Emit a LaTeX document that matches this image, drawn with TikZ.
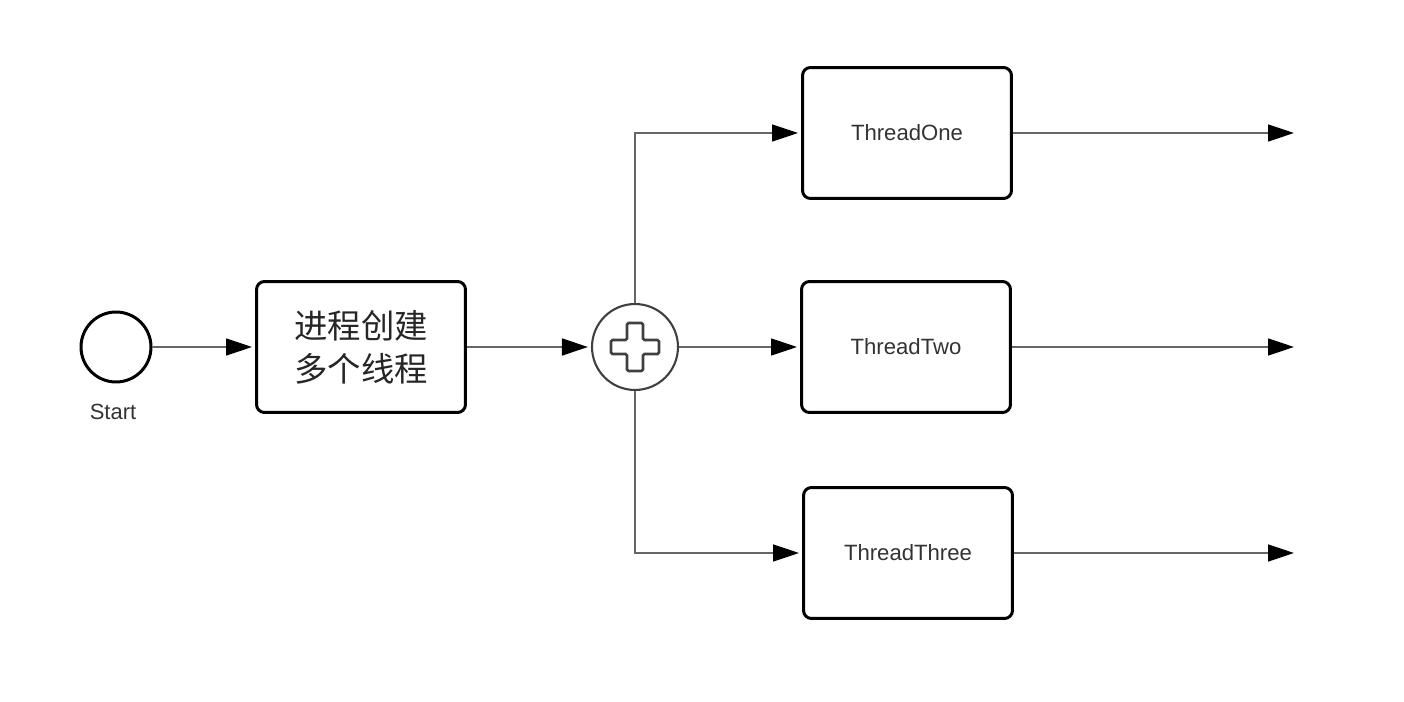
\documentclass[tikz,border=0pt]{standalone}
\usepackage{fontspec}
\setmainfont{Liberation Sans}
\newfontfamily\cjk{Noto Sans CJK SC}
\usetikzlibrary{arrows.meta}

\begin{document}
\begin{tikzpicture}[x=0.02cm, y=-0.02cm,
	task/.style={draw=black, line width=1.7pt, rounded corners=0.16cm, minimum width=4.18cm, minimum height=2.62cm, inner sep=0pt, text=black!80, font=\fontsize{12.6}{15}\selectfont},
	flow/.style={draw=black!60, line width=0.85pt, -{Triangle[length=0.52cm, width=0.34cm, black]}, shorten >=0.06cm}]
	\useasboundingbox (0,0) rectangle (1404,702);
	% Start Event %
	\node (start) [circle, draw=black, line width=1.7pt, minimum size=1.4cm, inner sep=0pt] at (116,347) {};
	\node (startlabel) [text=black!80, font=\fontsize{12.5}{14}\selectfont] at (113,412) {Start};
	% Process %
	\node (proc) [task, text=black!85, font=\cjk\fontsize{19}{24.5}\selectfont, align=center] at (361,347) {进程创建\\多个线程};
	% Parallel Gateway %
	\node (gateway) [circle, draw=black!75, line width=1.2pt, minimum size=1.72cm, inner sep=0pt] at (635,347) {};
	\draw [draw=black!75, line width=1.5pt, rounded corners=0.03cm, shift={(gateway.center)}] (-24,-7) -- (-8,-7) -- (-8,-24) -- (8,-24) -- (8,-7) -- (24,-7) -- (24,7) -- (8,7) -- (8,24) -- (-8,24) -- (-8,7) -- (-24,7) -- cycle;
	% Threads %
	\node (one) [task] at (907,133) {ThreadOne};
	\node (two) [task] at (906,347) {ThreadTwo};
	\node (three) [task] at (908,553) {ThreadThree};
	\coordinate (oneend) at (1297,133);
	\coordinate (twoend) at (1297,347);
	\coordinate (threeend) at (1297,553);
	% Flows %
	\draw [flow] (start) -- (proc);
	\draw [flow] (proc) -- (gateway);
	\draw [flow] (gateway) |- (one);
	\draw [flow] (gateway) -- (two);
	\draw [flow] (gateway) |- (three);
	\draw [flow] (one) -- (oneend);
	\draw [flow] (two) -- (twoend);
	\draw [flow] (three) -- (threeend);
\end{tikzpicture}
\end{document}
